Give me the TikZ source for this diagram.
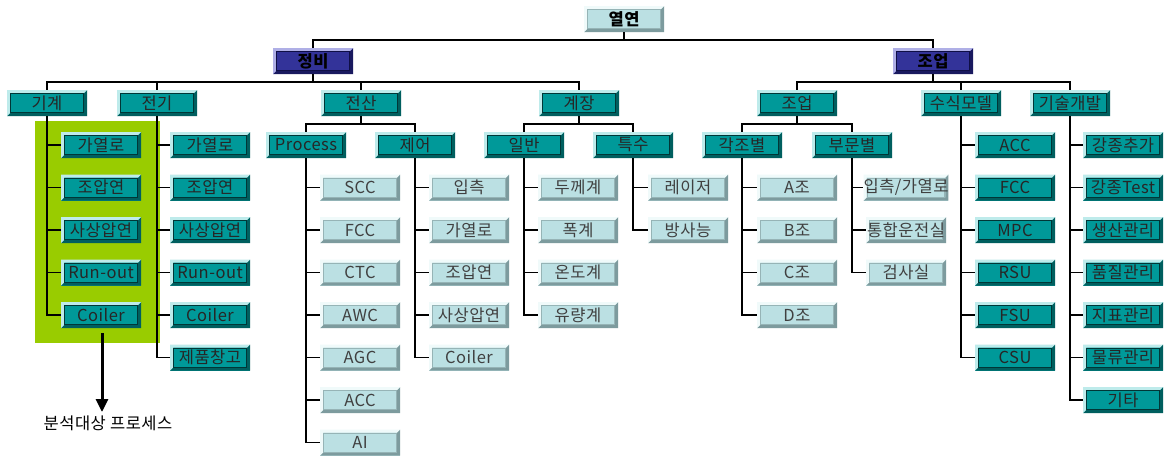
\documentclass[tikz,border=0pt]{standalone}
\usepackage{fontspec}
\setmainfont{Noto Sans CJK KR}[LetterSpace=3]
\usetikzlibrary{arrows.meta}

\definecolor{tealmain}{RGB}{0,153,153}
\definecolor{tealhi}{RGB}{190,235,235}
\definecolor{teallo}{RGB}{0,95,95}
\definecolor{tealline}{RGB}{0,55,55}
\definecolor{palemain}{RGB}{187,224,227}
\definecolor{palehi}{RGB}{240,250,250}
\definecolor{palelo}{RGB}{125,155,158}
\definecolor{paleline}{RGB}{150,180,182}
\definecolor{bluemain}{RGB}{51,51,153}
\definecolor{bluehi}{RGB}{175,175,230}
\definecolor{bluelo}{RGB}{25,25,95}
\definecolor{blueline}{RGB}{15,15,70}
\definecolor{scopegreen}{RGB}{153,204,0}

\tikzset{
  bevel/.style n args={4}{%
    rectangle, minimum width=80pt, minimum height=26pt, inner sep=0pt, fill=#1,
    path picture={
      \path (path picture bounding box.south west) coordinate (bSW)
            (path picture bounding box.north east) coordinate (bNE);
      \fill[#3] (bSW) -| (bNE) -- ([shift={(-3pt,-3pt)}]bNE) |- ([shift={(3pt,3pt)}]bSW) -- cycle;
      \fill[#2] (bSW) |- (bNE) -- ([shift={(-3pt,-3pt)}]bNE) -| ([shift={(3pt,3pt)}]bSW) -- cycle;
      \draw[#4, line width=0.8pt] ([shift={(3.6pt,3.6pt)}]bSW) rectangle ([shift={(-3.6pt,-3.6pt)}]bNE);
    }},
  labelfont/.style={font=\fontsize{16.5}{19}\selectfont},
  tealbox/.style={bevel={tealmain}{tealhi}{teallo}{tealline}, text=black!85, labelfont},
  palebox/.style={bevel={palemain}{palehi}{palelo}{paleline}, text=black!75, labelfont},
  bluebox/.style={bevel={bluemain}{bluehi}{bluelo}{blueline}, text=black, font=\bfseries\fontsize{16.5}{19}\selectfont},
  rootbox/.style={bevel={palemain}{palehi}{palelo}{paleline}, text=black, font=\bfseries\fontsize{16.5}{19}\selectfont},
  conn/.style={draw=black, line width=1.5pt},
}

\begin{document}
\begin{tikzpicture}[x=1pt, y=-1pt]
  \useasboundingbox[fill=white] (0,0) rectangle (1164,455);

  % highlighted scope of the analysed process
  \fill[scopegreen] (35,121) rectangle (160,343);

  % top levels
  \node[rootbox] (yy) at (624,19) {열연};
  \node[bluebox] (jb) at (313,61) {정비};
  \node[bluebox] (jo) at (933,61) {조업};

  \foreach \n/\x/\t in {gg/47/기계, jg/157/전기, js/361/전산, gj/579/계장}
    \node[tealbox] (\n) at (\x,103) {\t};
  \foreach \n/\x/\t in {jo2/797/조업, ss/961/수식모델, gs/1070/기술개발}
    \node[tealbox] (\n) at (\x,103) {\t};

  \foreach \n/\x/\t in {pr/306/Process, je/415/제어, il/524/일반, ts/633/특수, gjb/742/각조별, bmb/852/부문별}
    \node[tealbox] (\n) at (\x,145) {\t};

  % tree connectors
  \draw[conn] (yy.south) -- ++(0,8) -| (jb.north);
  \draw[conn] (yy.south) -- ++(0,8) -| (jo.north);
  \foreach \c in {gg, jg, js, gj}
    \draw[conn] (jb.south) -- ++(0,8) -| (\c.north);
  \foreach \c in {jo2, ss, gs}
    \draw[conn] (jo.south) -- ++(0,8) -| (\c.north);
  \foreach \c in {pr, je} \draw[conn] (js.south) -- ++(0,8) -| (\c.north);
  \foreach \c in {il, ts} \draw[conn] (gj.south) -- ++(0,8) -| (\c.north);
  \foreach \c in {gjb, bmb} \draw[conn] (jo2.south) -- ++(0,8) -| (\c.north);

  % vertical lists: parent / column x / first row / box style / items
  \foreach \p/\cx/\ry/\st/\items in {
      gg/101/145/tealbox/{가열로,조압연,사상압연,Run-out,Coiler},
      jg/210/145/tealbox/{가열로,조압연,사상압연,Run-out,Coiler,제품창고},
      pr/360/187.5/palebox/{SCC,FCC,CTC,AWC,AGC,ACC,AI},
      je/469/187.5/palebox/{입측,가열로,조압연,사상압연,Coiler},
      il/578/187.5/palebox/{두께계,폭계,온도계,유량계},
      ts/688/187.5/palebox/{레이저,방사능},
      gjb/797/187.5/palebox/{A조,B조,C조,D조},
      bmb/906/187.5/palebox/{입측/가열로,통합운전실,검사실},
      ss/1015/145/tealbox/{ACC,FCC,MPC,RSU,FSU,CSU},
      gs/1123/145/tealbox/{강종추가,강종Test,생산관리,품질관리,지표관리,물류관리,기타}} {
    \foreach \t [count=\i] in \items {
      \node[\st] (\p\i) at ({\cx},{\ry+42.5*(\i-1)}) {\t};
      \draw[conn] (\p.south) |- (\p\i.west);
    }
  }

  % analysed-process pointer
  \node[labelfont, text=black] (tgt) at (108,423) {분석대상 프로세스};
  \coordinate (asrc) at (102,333);
  \draw[line width=3pt, -{Triangle[length=13pt,width=12pt]}] (asrc) -- (asrc |- tgt.north);
\end{tikzpicture}
\end{document}
